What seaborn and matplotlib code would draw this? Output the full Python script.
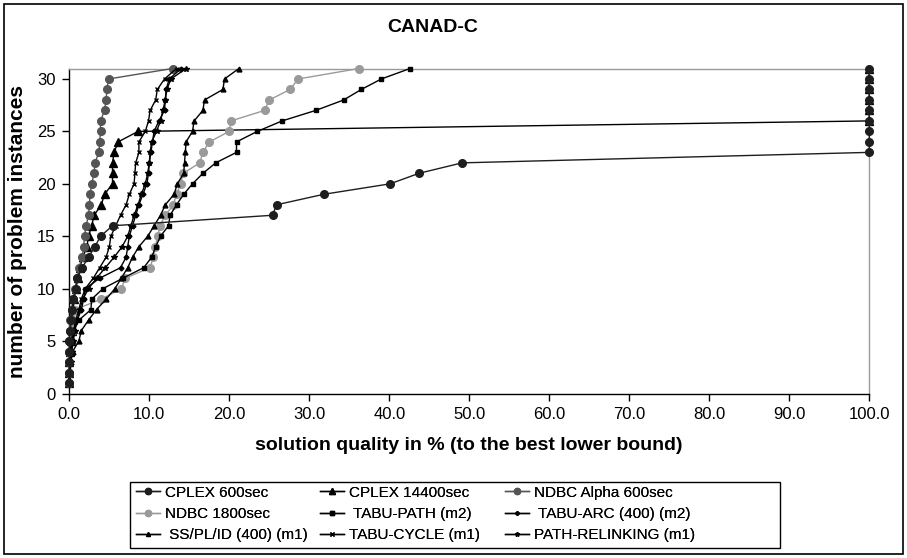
import matplotlib
matplotlib.use("Agg")
import matplotlib.pyplot as plt
import seaborn as sns
import pandas as pd
from matplotlib.patches import Rectangle

instances = list(range(1, 32))

cplex_600 = [0, 0, 0, 0, 0, 0.1, 0.2, 0.3, 0.5, 0.8, 1.0, 1.6, 2.4, 3.2, 3.9, 5.4,
             25.4, 25.9, 31.8, 40.1, 43.7, 49.1,
             100, 100, 100, 100, 100, 100, 100, 100, 100]
cplex_14400 = [0, 0, 0, 0.1, 0.2, 0.3, 0.4, 0.5, 0.6, 0.8, 1.1, 1.3, 1.7, 2.2, 2.4, 2.8,
               3.1, 4.0, 4.4, 5.4, 5.4, 5.4, 5.6, 6.1, 8.6,
               100, 100, 100, 100, 100, 100]
ndbc_alpha_600 = [0, 0, 0, 0, 0, 0.05, 0.1, 0.3, 0.5, 0.7, 1.0, 1.2, 1.6, 1.8, 1.9, 2.1,
                  2.4, 2.5, 2.6, 2.8, 3.1, 3.2, 3.7, 3.8, 3.9, 3.9, 4.4, 4.6, 4.7, 4.9, 12.9]
ndbc_1800 = [0, 0, 0, 0, 0.1, 0.3, 0.5, 0.7, 4.0, 6.5, 7.0, 10.1, 10.5, 10.7, 11.1, 11.3,
             12.0, 13.0, 13.4, 13.9, 14.25, 16.3, 16.7, 17.5, 20.0, 20.2, 24.4, 25.0, 27.6, 28.6, 36.2]
tabu_path = [0.1, 0.1, 0.1, 0.2, 0.3, 0.5, 1.2, 2.7, 2.8, 4.2, 6.7, 9.3, 10.3, 10.8, 11.4, 12.4,
             12.6, 13.4, 14.3, 15.4, 16.7, 18.3, 20.9, 20.9, 23.5, 26.6, 30.8, 34.3, 36.5, 39.0, 42.6]
tabu_arc = [0, 0, 0.1, 0.2, 0.4, 0.6, 1.0, 1.5, 1.8, 2.0, 3.8, 6.4, 7.1, 7.3, 7.5, 7.9,
            8.3, 8.7, 9.2, 9.7, 9.9, 10.0, 10.2, 10.4, 10.6, 11.2, 11.9, 12.0, 12.1, 12.5, 14.0]
ss_pl_id = [0.1, 0.1, 0.2, 0.4, 1.2, 1.5, 2.4, 3.4, 4.6, 5.7, 6.5, 7.3, 7.9, 8.7, 9.8, 10.6,
            11.4, 12.0, 13.1, 13.5, 14.3, 14.4, 14.5, 14.6, 15.4, 15.6, 16.7, 16.9, 19.2, 19.4, 21.2]
tabu_cycle = [0, 0, 0.1, 0.2, 0.3, 0.5, 0.8, 1.2, 1.5, 2.0, 3.0, 3.8, 4.6, 5.0, 5.2, 5.8,
              6.4, 7.1, 7.5, 8.1, 8.2, 8.3, 8.7, 8.7, 9.5, 9.9, 10.1, 10.8, 11.0, 11.9, 13.4]
path_relinking = [0, 0.1, 0.2, 0.3, 0.5, 0.7, 1.0, 1.3, 1.7, 2.4, 3.4, 4.5, 5.6, 6.6, 7.3, 7.7,
                  8.1, 8.6, 9.0, 9.5, 9.8, 10.0, 10.1, 10.3, 10.9, 11.4, 11.7, 12.0, 12.2, 12.7, 14.6]

labels = ["CPLEX 600sec", "CPLEX 14400sec", "NDBC Alpha 600sec",
          "NDBC 1800sec", " TABU-PATH (m2)", " TABU-ARC (400) (m2)",
          " SS/PL/ID (400) (m1)", "TABU-CYCLE (m1)", "PATH-RELINKING (m1)"]
series = [cplex_600, cplex_14400, ndbc_alpha_600, ndbc_1800, tabu_path, tabu_arc,
          ss_pl_id, tabu_cycle, path_relinking]

styles = [
    dict(color="#1e1e1e", marker="o", markersize=5.5, z=4),
    dict(color="#000000", marker="^", markersize=5.5, z=3),
    dict(color="#555555", marker="o", markersize=5.5, z=3),
    dict(color="#9a9a9a", marker="o", markersize=5.5, z=3),
    dict(color="#000000", marker="s", markersize=3.5, z=3),
    dict(color="#000000", marker="D", markersize=2.5, z=3),
    dict(color="#000000", marker="^", markersize=3.5, z=3),
    dict(color="#000000", marker="x", markersize=3.5, z=3),
    dict(color="#000000", marker="*", markersize=4.0, z=3),
]

plt.rcParams['font.family'] = ['Liberation Sans', 'DejaVu Sans']
fig = plt.figure(figsize=(9.07, 5.58), dpi=100)
fig.patch.set_facecolor("white")
ax = fig.add_axes([69.3 / 907, (558 - 393.5) / 558, 800 / 907, 325 / 558])

handles = []
for lab, vals, st in zip(labels, series, styles):
    df = pd.DataFrame({"x": vals, "y": instances})
    sns.lineplot(data=df, x="x", y="y", ax=ax, estimator=None, sort=False,
                 color=st["color"], lw=1.0, marker=st["marker"], markersize=st["markersize"],
                 markerfacecolor=st["color"], markeredgecolor=st["color"],
                 markeredgewidth=1.0, clip_on=False, zorder=st["z"], label=lab)
    handles.append(ax.lines[-1])

ax.set_xlim(0, 100)
ax.set_ylim(0, 31)
ax.set_xticks([0, 10, 20, 30, 40, 50, 60, 70, 80, 90, 100])
ax.set_xticklabels(["0.0", "10.0", "20.0", "30.0", "40.0", "50.0", "60.0", "70.0", "80.0", "90.0", "100.0"])
ax.set_yticks([0, 5, 10, 15, 20, 25, 30])
ax.tick_params(axis="both", direction="out", length=5, width=1, labelsize=12, colors="black")
ax.tick_params(axis="x", pad=4.5)
ax.tick_params(axis="y", pad=5)
for s in ["left", "bottom"]:
    ax.spines[s].set_color("black")
    ax.spines[s].set_linewidth(1.0)
for s in ["top", "right"]:
    ax.spines[s].set_color("#999999")
    ax.spines[s].set_linewidth(1.0)
ax.set_facecolor("white")
ax.grid(False)
ax.set_xlabel("")
ax.set_ylabel("")
if ax.get_legend():
    ax.get_legend().remove()

fig.text(433 / 907, 1 - 28 / 558, "CANAD-C", ha="center", va="center", fontsize=14, fontweight="bold")
fig.text(469 / 907, 1 - 445 / 558, "solution quality in % (to the best lower bound)",
         ha="center", va="center", fontsize=14, fontweight="bold")
fig.text(18 / 907, 1 - 232 / 558, "number of problem instances", ha="center", va="center",
         rotation=90, fontsize=15, fontweight="bold")

# legend: frame + three columns (Excel-like fixed column positions)
fig.patches.append(Rectangle((130 / 907, 1 - 548 / 558), 650 / 907, 66 / 558,
                             transform=fig.transFigure, fill=False, edgecolor="black", lw=1.0))
col_x = [133, 317, 502]
for c in range(3):
    idx = [c, c + 3, c + 6]
    lg = fig.legend([handles[i] for i in idx], [labels[i] for i in idx], ncol=1,
                    loc="upper left", bbox_to_anchor=(col_x[c] / 907, 1 - 483 / 558),
                    fontsize=11, frameon=False, borderpad=0.17, labelspacing=0.48,
                    handlelength=1.6, handletextpad=0.3, borderaxespad=0, markerscale=0.8)
    fig.add_artist(lg)

fig.patches.append(Rectangle((4 / 907, 4 / 558), 899 / 907, 550 / 558, transform=fig.transFigure,
                             fill=False, edgecolor="black", lw=1.2))

fig.savefig("out.png", dpi=100, facecolor="white")
